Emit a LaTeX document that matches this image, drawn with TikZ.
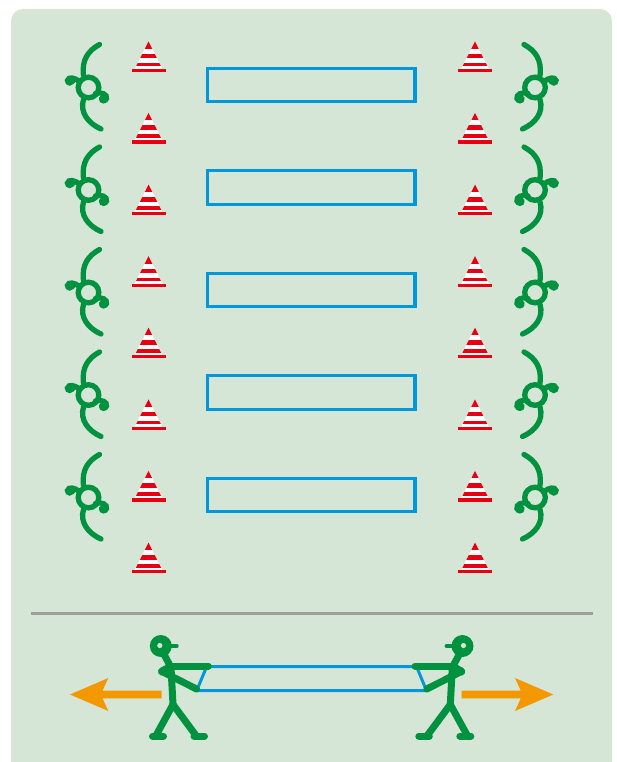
\documentclass[tikz,border=0pt]{standalone}
\begin{document}
\definecolor{fieldbg}{RGB}{214,230,214}
\definecolor{playergreen}{RGB}{0,146,63}
\definecolor{bandblue}{RGB}{0,152,218}
\definecolor{conered}{RGB}{230,0,18}
\definecolor{pullorange}{RGB}{243,152,0}
\definecolor{divgray}{RGB}{158,158,154}
\begin{tikzpicture}[x=1pt,y=-1pt,
  bandbox/.style={draw=bandblue, line width=3.3, inner sep=0pt,
    minimum width=207.3pt, minimum height=33.4pt},
  playerline/.style={draw=playergreen, line width=5.3, line cap=round},
  limb/.style={draw=playergreen, line width=7, line cap=round, line join=round},
  trafficcone/.pic={
    \begin{scope}
      \clip (0,0) -- (-14,28) -- (14,28) -- cycle;
      \fill[white] (-15,-1) rectangle (15,28);
      \fill[conered] (-15,-1) rectangle (15,7.5);
      \fill[conered] (-15,12.5) rectangle (15,17);
      \fill[conered] (-15,21.5) rectangle (15,25);
    \end{scope}
    \fill[conered] (-17,27.4) rectangle (17,30.7);
  },
  fieldplayer/.pic={
    \draw[playerline] (0,0) circle (10.3);
    \draw[playerline] (11,-43) .. controls (0,-37) and (-7,-28) .. (-5,-12);
    \draw[playerline] (-5,12) .. controls (-9,25) and (0,36) .. (12.5,41.5);
    \draw[playerline] (-9,-6) .. controls (-14,-10) and (-20,-11) .. (-21,-7)
      .. controls (-21,-4) and (-17,-4) .. (-16,-6);
    \draw[playerline] (7,6) .. controls (13,4) and (19,7) .. (18,11)
      .. controls (17,14) and (13,14) .. (13,11);
  },
  puller/.pic={
    % origin at the hip
    \fill[playergreen] (-12.2,-58.5) circle (11);
    \fill[fieldbg] (-13.2,-59) circle (2.6);
    \draw[playergreen, line width=3.8, line cap=round] (-3,-58.5) -- (3.8,-58.5);
    \draw[limb] (-10,-52) -- (-3,-39);
    \draw[limb, line width=8] (-11,-33) -- (-2.5,-37.5);
    \draw[limb] (-3,-38.5) -- (35.3,-38.5);
    \draw[limb] (-11,-33) -- (23.5,-15.5);
    \draw[limb] (-2,-37) -- (0,0);
    \draw[limb] (0,0) -- (-17,31);
    \draw[limb] (-20.5,31.5) -- (-9.5,31.5);
    \draw[limb] (0,0) -- (23,31);
    \draw[limb] (21,31.5) -- (31.5,31.5);
  }
]
\useasboundingbox (0,0) rectangle (617,762);

% field
\fill[fieldbg, rounded corners=12pt] (11,9) rectangle (612,790);

% rubber bands laid out on the ground
\foreach \i/\y in {1/85,2/187.5,3/290,4/392.5,5/495}{
  \node[bandbox] (band\i) at (311.4,\y) {};
}

% cones
\foreach \k in {0,...,7}{
  \pic (lcone\k) at (148.5,{41.3+71.6*\k}) {trafficcone};
  \pic (rcone\k) at (475,{41.3+71.6*\k}) {trafficcone};
}

% players seen from above
\foreach \i/\y in {1/87.5,2/190,3/292.5,4/395,5/497.5}{
  \pic (lplayer\i) at (88.5,\y) {fieldplayer};
  \pic[xscale=-1] (rplayer\i) at (535,\y) {fieldplayer};
}

% divider
\draw[divgray, line width=3] (31,613) -- (593,613);

% stretched band
\draw[bandblue, line width=3, line join=miter]
  (206.7,666.5) -- (416.5,666.5) -- (426.5,690.6) -- (196.7,690.6) -- cycle;

% pullers
\pic (lpuller) at (173,704.5) {puller};
\pic[xscale=-1] (rpuller) at (450.3,704.5) {puller};

% pulling directions
\fill[pullorange] (70,694.5) -- (108.3,678) -- (102.5,690.7) -- (161.7,690.7)
  -- (161.7,698.3) -- (102.5,698.3) -- (108.3,711) -- cycle;
\fill[pullorange] (553.3,694.5) -- (515,678) -- (520.8,690.7) -- (461.6,690.7)
  -- (461.6,698.3) -- (520.8,698.3) -- (515,711) -- cycle;
\end{tikzpicture}
\end{document}
